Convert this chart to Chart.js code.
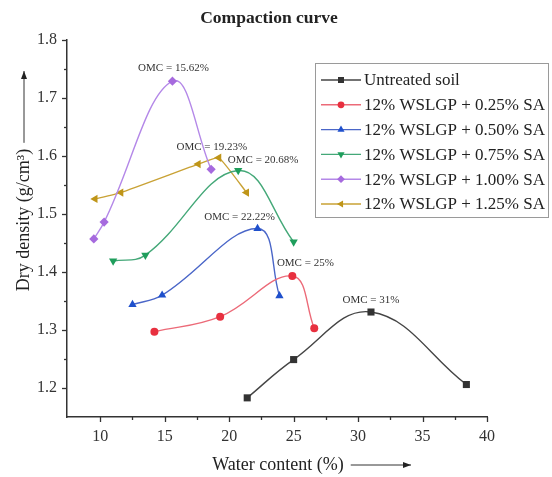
<!DOCTYPE html>
<html>
<head>
<meta charset="utf-8">
<script src="https://cdn.jsdelivr.net/npm/chart.js@4.4.1/dist/chart.umd.min.js"></script>
<style>
    html, body { margin: 0; padding: 0; background: #ffffff; }
    #chart-container { width: 552px; height: 477px; }
</style>
</head>
<body>
<div id="chart-container"><canvas id="chart-compaction" width="552" height="477"></canvas></div>
<script>
// --- data -----------------------------------------------------------------------------------
const seriesNames = [
    'Untreated soil',
    '12% WSLGP + 0.25% SA',
    '12% WSLGP + 0.50% SA',
    '12% WSLGP + 0.75% SA',
    '12% WSLGP + 1.00% SA',
    '12% WSLGP + 1.25% SA'
];
const waterUntreated   = [21.4, 25.0, 31.0, 38.4];
const densityUntreated = [1.183, 1.249, 1.331, 1.206];
const water025         = [14.2, 19.3, 24.9, 26.6];
const density025       = [1.297, 1.323, 1.393, 1.303];
const water050         = [12.5, 14.8, 22.2, 23.9];
const density050       = [1.344, 1.360, 1.475, 1.359];
const water075         = [11.0, 13.5, 20.7, 25.0];
const density075       = [1.419, 1.429, 1.575, 1.452];
const water100         = [9.5, 10.3, 15.6, 18.6];
const density100       = [1.457, 1.486, 1.729, 1.577];
const water125         = [9.6, 11.6, 17.6, 19.2, 21.35];
const density125       = [1.526, 1.537, 1.586, 1.597, 1.537];
const omcLabels = ['OMC = 31%', 'OMC = 25%', 'OMC = 22.22%', 'OMC = 20.68%', 'OMC = 15.62%', 'OMC = 19.23%'];
const xTickValues = [10, 15, 20, 25, 30, 35, 40];
const yTickValues = [1.2, 1.3, 1.4, 1.5, 1.6, 1.7, 1.8];

// --- styles ---------------------------------------------------------------------------------
const lineColors  = ['#454545', '#ec6a78', '#4a66c8', '#44a878', '#b488e8', '#c9a235'];
const pointColors = ['#333333', '#e8303f', '#1f50cc', '#1f9e5c', '#a66ade', '#bf9518'];
const pointStyles = ['rect', 'circle', 'triangle', 'triangle', 'rectRot', 'triangle'];
const pointRotations = [0, 0, 0, 180, 0, -90];
const pointSizes  = [5, 4, 4.8, 4.8, 4.6, 4.8];
const tensions    = [0.4, 0.4, 0.4, 0.4, 0.4, 0.12];
const omcOffsets  = [[0, -12], [13, -13], [-18, -11], [25, -10], [1, -13], [-7, -11]];
const serif = '"Liberation Serif", "Times New Roman", serif';

const waterSeries   = [waterUntreated, water025, water050, water075, water100, water125];
const densitySeries = [densityUntreated, density025, density050, density075, density100, density125];

function buildDatasets()
{
    return seriesNames.map((name, i) => ({
        label: name,
        data: waterSeries[i].map((w, j) => ({ x: w, y: densitySeries[i][j] })),
        borderColor: lineColors[i],
        backgroundColor: pointColors[i],
        borderWidth: 1.4,
        tension: tensions[i],
        pointStyle: pointStyles[i],
        rotation: pointRotations[i],
        pointRadius: pointSizes[i],
        pointBorderWidth: 0,
        pointBackgroundColor: pointColors[i],
        fill: false
    }));
}
// -------------------------------------------------------------------------------------------
function drawArrowLine(ctx, x1, y1, x2, y2)
{
    const ang = Math.atan2(y2 - y1, x2 - x1);
    ctx.beginPath();
    ctx.moveTo(x1, y1);
    ctx.lineTo(x2, y2);
    ctx.stroke();
    ctx.beginPath();
    ctx.moveTo(x2, y2);
    ctx.lineTo(x2 - 8 * Math.cos(ang) + 3 * Math.sin(ang), y2 - 8 * Math.sin(ang) - 3 * Math.cos(ang));
    ctx.lineTo(x2 - 8 * Math.cos(ang) - 3 * Math.sin(ang), y2 - 8 * Math.sin(ang) + 3 * Math.cos(ang));
    ctx.closePath();
    ctx.fill();
}
// -------------------------------------------------------------------------------------------
const decorPlugin = {
    id: 'decor',
    afterDraw(chart) {
        const ctx = chart.ctx;
        const xs = chart.scales.x;
        const ys = chart.scales.y;
        const area = chart.chartArea;

        ctx.save();
        ctx.strokeStyle = '#333';
        ctx.fillStyle = '#222';
        ctx.lineWidth = 1.3;

        // tick marks, major and minor
        for (let v = 10; v <= 40; v += 2.5) {
            const px = Math.round(xs.getPixelForValue(v)) + 0.5;
            const len = (v % 5 === 0) ? 5 : 3;
            ctx.beginPath();
            ctx.moveTo(px, area.bottom);
            ctx.lineTo(px, area.bottom + len);
            ctx.stroke();
        }
        for (let k = 4; k <= 16; k++) {
            const v = k * 0.05 + 1.0;
            if (v < ys.min + 0.01) {
                continue;
            }
            const py = Math.round(ys.getPixelForValue(v)) + 0.5;
            const len = (k % 2 === 0) ? 5 : 3;
            ctx.beginPath();
            ctx.moveTo(area.left, py);
            ctx.lineTo(area.left - len, py);
            ctx.stroke();
        }

        // title
        ctx.textAlign = 'center';
        ctx.textBaseline = 'middle';
        ctx.font = 'bold 17.5px ' + serif;
        ctx.fillText('Compaction curve', 269, 18);

        // x axis title with arrow
        ctx.font = '18px ' + serif;
        const xt = 'Water content (%)';
        const xw = ctx.measureText(xt).width;
        const xc = 278;
        ctx.fillText(xt, xc, 465);
        ctx.lineWidth = 1;
        drawArrowLine(ctx, xc + xw / 2 + 7, 465, 411, 465);

        // y axis title with arrow
        ctx.save();
        ctx.translate(24, 220);
        ctx.rotate(-Math.PI / 2);
        ctx.font = '18px ' + serif;
        const yt = 'Dry density (g/cm³)';
        const yw = ctx.measureText(yt).width;
        ctx.fillText(yt, 0, 0);
        drawArrowLine(ctx, yw / 2 + 6, 0, 220 - 71, 0);
        ctx.restore();

        // OMC labels at the peak of each curve
        ctx.font = '11px ' + serif;
        ctx.fillStyle = '#333';
        chart.data.datasets.forEach((ds, i) => {
            let peak = 0;
            ds.data.forEach((p, j) => { if (p.y > ds.data[peak].y) peak = j; });
            const px = xs.getPixelForValue(ds.data[peak].x) + omcOffsets[i][0];
            const py = ys.getPixelForValue(ds.data[peak].y) + omcOffsets[i][1];
            ctx.fillText(omcLabels[i], px, py);
        });

        // legend box
        const lx = 315, ly = 63, lw = 233, lh = 154;
        ctx.fillStyle = '#ffffff';
        ctx.fillRect(lx, ly, lw, lh);
        ctx.strokeStyle = '#9a9a9a';
        ctx.lineWidth = 1;
        ctx.strokeRect(lx + 0.5, ly + 0.5, lw, lh);
        ctx.font = '17px ' + serif;
        ctx.textAlign = 'left';
        chart.data.datasets.forEach((ds, i) => {
            const ry = 80 + i * 24.8;
            ctx.strokeStyle = lineColors[i];
            ctx.lineWidth = 1.4;
            ctx.beginPath();
            ctx.moveTo(321, ry);
            ctx.lineTo(361, ry);
            ctx.stroke();
            ctx.fillStyle = pointColors[i];
            if (Chart.helpers && Chart.helpers.drawPoint) {
                Chart.helpers.drawPoint(ctx, {
                    pointStyle: pointStyles[i],
                    rotation: pointRotations[i],
                    radius: pointSizes[i] * 0.85,
                    borderWidth: 0
                }, 341, ry);
            }
            ctx.fillStyle = '#222';
            ctx.fillText(ds.label, 364, ry + 1);
        });
        ctx.restore();
    }
};
// -------------------------------------------------------------------------------------------
function drawCompactionChart()
{
    const tickFont = { family: serif, size: 16 };

    new Chart('chart-compaction', {
        type: 'line',
        data: { datasets: buildDatasets() },
        plugins: [decorPlugin],
        options: {
            responsive: false,
            animation: false,
            devicePixelRatio: 1,
            layout: { padding: { top: 40, right: 65, bottom: 0, left: 0 } },
            plugins: {
                legend: { display: false },
                title: { display: false },
                tooltip: { enabled: false }
            },
            scales: {
                x: {
                    type: 'linear',
                    min: 7.42,
                    max: 40,
                    afterFit: (scale) => { scale.height = 60; },
                    afterBuildTicks: (scale) => { scale.ticks = xTickValues.map(v => ({ value: v })); },
                    grid: { display: false, drawTicks: false },
                    border: { display: true, color: '#333', width: 1.5 },
                    ticks: { color: '#333', font: tickFont, padding: 10, maxRotation: 0, autoSkip: false }
                },
                y: {
                    type: 'linear',
                    min: 1.15,
                    max: 1.8,
                    afterFit: (scale) => { scale.width = 67; },
                    afterBuildTicks: (scale) => { scale.ticks = yTickValues.map(v => ({ value: v })); },
                    grid: { display: false, drawTicks: false },
                    border: { display: true, color: '#333', width: 1.5 },
                    ticks: {
                        color: '#333',
                        font: tickFont,
                        padding: 10,
                        autoSkip: false,
                        callback: (value) => value.toFixed(1)
                    }
                }
            }
        }
    });
}

drawCompactionChart();
</script>
</body>
</html>
